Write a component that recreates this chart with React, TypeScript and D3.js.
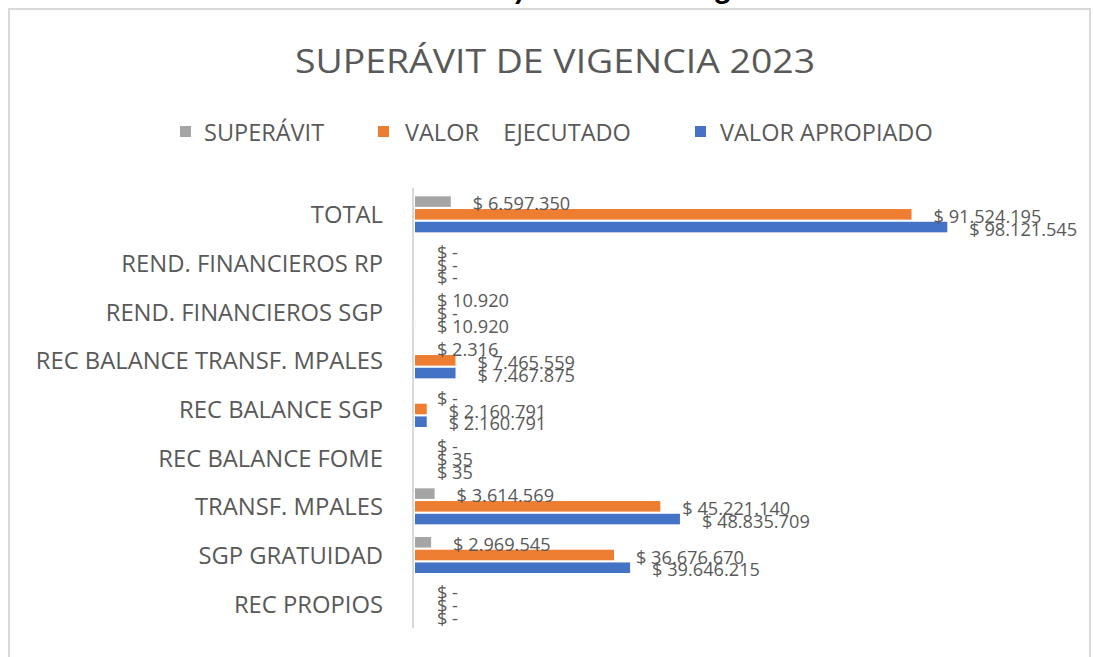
import React from "react";
import * as d3 from "d3";

const categories = [
  "TOTAL",
  "REND. FINANCIEROS RP",
  "REND. FINANCIEROS SGP",
  "REC BALANCE TRANSF. MPALES",
  "REC BALANCE SGP",
  "REC BALANCE FOME",
  "TRANSF. MPALES",
  "SGP GRATUIDAD",
  "REC PROPIOS",
];
const superavit = [6597350, 0, 10920, 2316, 0, 0, 3614569, 2969545, 0];
const valorEjecutado = [91524195, 0, 0, 7465559, 2160791, 35, 45221140, 36676670, 0];
const valorApropiado = [98121545, 0, 10920, 7467875, 2160791, 35, 48835709, 39646215, 0];

const seriesNames = ["SUPERÁVIT", "VALOR    EJECUTADO", "VALOR APROPIADO"];
const seriesColors = ["#A5A5A5", "#ED7D31", "#4472C4"];
const seriesValues = [superavit, valorEjecutado, valorApropiado];

const W = 1093;
const H = 657;
const FONT = "'Open Sans', Lato, sans-serif";
const TXT = "#595959";

function fmt(v: number) {
  if (v === 0) return "$ -";
  return "$ " + d3.format(",")(v).replace(/,/g, ".");
}

export default function App() {
  const x = d3.scaleLinear().domain([0, 120000000]).range([415, 1066]);
  const y = d3.scaleBand<string>().domain(categories).range([190, 628]).padding(0);
  const inner = d3
    .scaleBand<string>()
    .domain(seriesNames)
    .range([-18, 18])
    .paddingInner(0.17)
    .paddingOuter(0);

  const legendX = [180, 378, 695];
  const legendTextX = [204, 405, 720];

  return (
    <div style={{ position: "absolute", left: 0, top: 0 }}>
      <svg width={W} height={H} style={{ display: "block" }}>
        <rect x={0} y={0} width={W} height={H} fill="#ffffff" />
        <text
          x={400}
          y={-1}
          fontFamily="Lato, sans-serif"
          fontSize={32}
          fontWeight="bold"
          fontStyle="italic"
          fill="#000"
        >
          Balance y Saldo en la Vigencia 2023
        </text>
        <rect x={9} y={9} width={1081} height={700} fill="#ffffff" stroke="#D9D9D9" strokeWidth={2} />
        <text
          x={555}
          y={73}
          textAnchor="middle"
          fontFamily={FONT}
          fontSize={32}
          fill={TXT}
          textLength={520}
          lengthAdjust="spacingAndGlyphs"
        >
          SUPERÁVIT DE VIGENCIA 2023
        </text>
        {seriesNames.map((s, i) => (
          <g key={s}>
            <rect x={legendX[i]} y={126} width={11} height={11} fill={seriesColors[i]} />
            <text
              x={legendTextX[i]}
              y={131.5}
              dominantBaseline="central"
              fontFamily={FONT}
              fontSize={23.5}
              fill={TXT}
              style={{ whiteSpace: "pre" }}
            >
              {s}
            </text>
          </g>
        ))}
        {categories.map((c) => (
          <text
            key={c}
            x={383}
            y={(y(c) as number) + y.bandwidth() / 2}
            dominantBaseline="central"
            textAnchor="end"
            fontFamily={FONT}
            fontSize={23.8}
            fill={TXT}
          >
            {c}
          </text>
        ))}
        {seriesNames.map((s, si) =>
          categories.map((c, ci) => {
            const v = seriesValues[si][ci];
            const cy = (y(c) as number) + y.bandwidth() / 2 + (inner(s) as number);
            return (
              <rect
                key={s + c}
                x={x(0)}
                y={cy}
                width={Math.max(0, x(v) - x(0))}
                height={inner.bandwidth()}
                fill={seriesColors[si]}
              />
            );
          })
        )}
        {seriesNames.map((s, si) =>
          categories.map((c, ci) => {
            const v = seriesValues[si][ci];
            const cy = (y(c) as number) + y.bandwidth() / 2 + (inner(s) as number) + inner.bandwidth() / 2;
            return (
              <text
                key={"l" + s + c}
                x={x(v) + 22}
                y={cy + 1.5}
                dominantBaseline="central"
                fontFamily={FONT}
                fontSize={18.2}
                fill={TXT}
              >
                {fmt(v)}
              </text>
            );
          })
        )}
        <line x1={413} x2={413} y1={188} y2={628} stroke="#D9D9D9" strokeWidth={2} />
      </svg>
    </div>
  );
}
